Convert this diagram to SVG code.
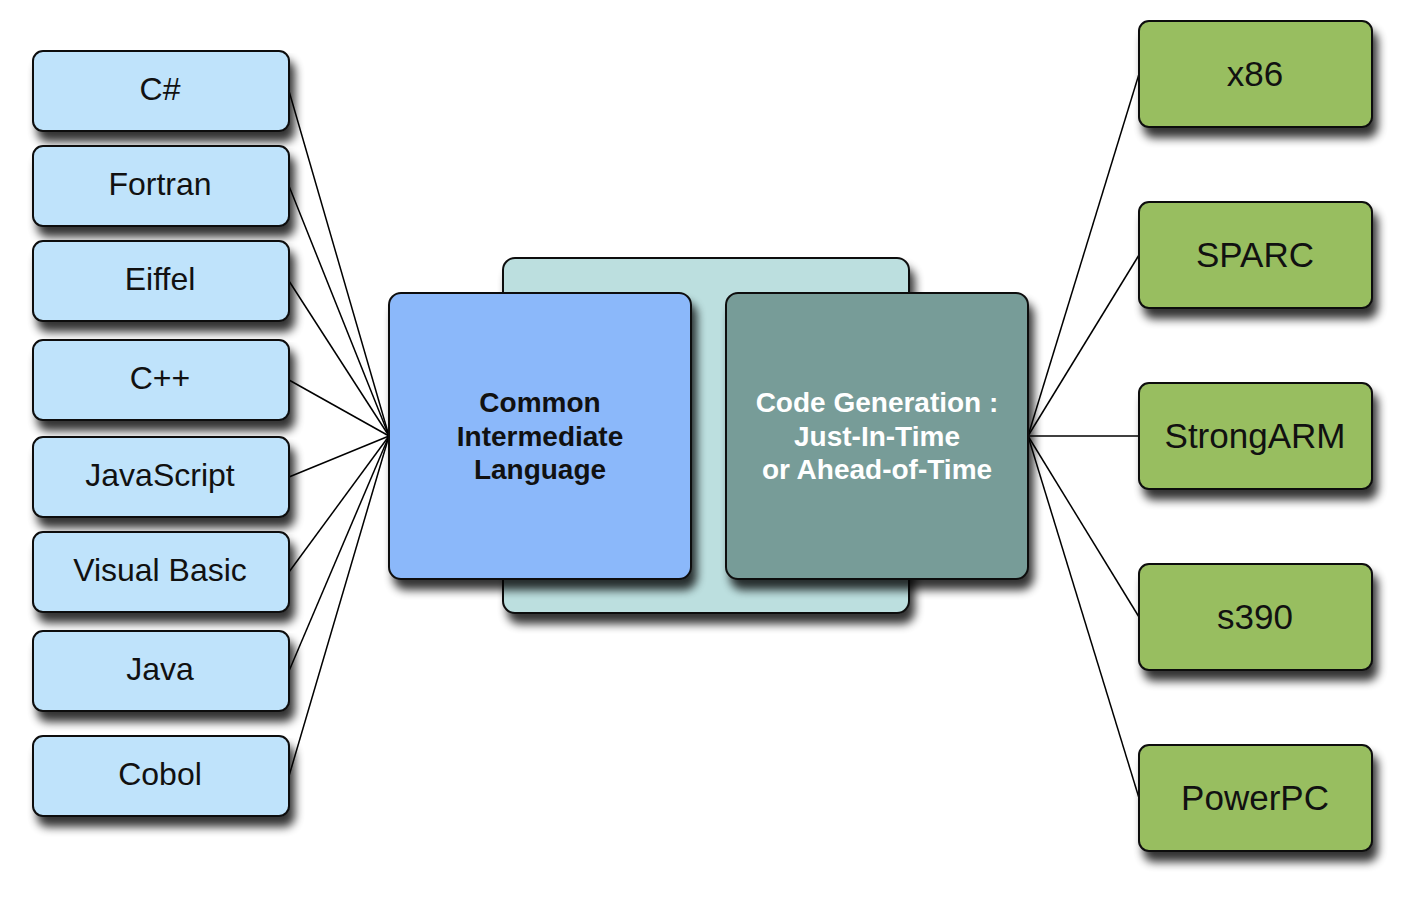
<svg xmlns="http://www.w3.org/2000/svg" width="1402" height="900" viewBox="0 0 1402 900">
<defs>
<filter id="sh" x="-10%" y="-10%" width="130%" height="150%">
<feGaussianBlur in="SourceAlpha" stdDeviation="5"/>
<feOffset dx="5" dy="10" result="b"/>
<feComponentTransfer><feFuncA type="linear" slope="0.8"/></feComponentTransfer>
<feMerge><feMergeNode/><feMergeNode in="SourceGraphic"/></feMerge>
</filter>
<style>
.box{stroke:#111;stroke-width:2;filter:url(#sh)}
.lang{fill:#bfe3fb}
.cpu{fill:#98be60}
.t{font-family:"Liberation Sans",Arial,sans-serif;fill:#111;text-anchor:middle}
.lt{font-size:32px}
.rt{font-size:35px}
.ct{font-size:28px;font-weight:bold}
.ln{stroke:#000;stroke-width:1.5;fill:none}
</style>
</defs>
<rect width="1402" height="900" fill="#fff"/>

<g id="connectors">
<line class="ln" x1="289" y1="91" x2="389" y2="436"/>
<line class="ln" x1="289" y1="186" x2="389" y2="436"/>
<line class="ln" x1="289" y1="281" x2="389" y2="436"/>
<line class="ln" x1="289" y1="380" x2="389" y2="436"/>
<line class="ln" x1="289" y1="477" x2="389" y2="436"/>
<line class="ln" x1="289" y1="572" x2="389" y2="436"/>
<line class="ln" x1="289" y1="671" x2="389" y2="436"/>
<line class="ln" x1="289" y1="776" x2="389" y2="436"/>
<line class="ln" x1="1028" y1="436" x2="1139" y2="74"/>
<line class="ln" x1="1028" y1="436" x2="1139" y2="255"/>
<line class="ln" x1="1028" y1="436" x2="1139" y2="436"/>
<line class="ln" x1="1028" y1="436" x2="1139" y2="617"/>
<line class="ln" x1="1028" y1="436" x2="1139" y2="798"/>
</g>

<g id="platform">
<rect class="box" x="503" y="258" width="406" height="355" rx="12" fill="#bcdfdf"/>
</g>
<g id="cil">
<rect class="box" x="389" y="293" width="302" height="286" rx="12" fill="#8bb8fa"/>
<text class="t ct" x="540" y="412">Common</text>
<text class="t ct" x="540" y="446">Intermediate</text>
<text class="t ct" x="540" y="479">Language</text>
</g>
<g id="codegen">
<rect class="box" x="726" y="293" width="302" height="286" rx="12" fill="#779c98"/>
<text class="t ct" x="877" y="412" style="fill:#fff">Code Generation :</text>
<text class="t ct" x="877" y="446" style="fill:#fff">Just-In-Time</text>
<text class="t ct" x="877" y="479" style="fill:#fff">or Ahead-of-Time</text>
</g>

<g id="csharp"><rect class="box lang" x="33" y="51" width="256" height="80" rx="10"/><text class="t lt" x="160" y="100">C#</text></g>
<g id="fortran"><rect class="box lang" x="33" y="146" width="256" height="80" rx="10"/><text class="t lt" x="160" y="195">Fortran</text></g>
<g id="eiffel"><rect class="box lang" x="33" y="241" width="256" height="80" rx="10"/><text class="t lt" x="160" y="290">Eiffel</text></g>
<g id="cpp"><rect class="box lang" x="33" y="340" width="256" height="80" rx="10"/><text class="t lt" x="160" y="389">C++</text></g>
<g id="javascript"><rect class="box lang" x="33" y="437" width="256" height="80" rx="10"/><text class="t lt" x="160" y="486">JavaScript</text></g>
<g id="visualbasic"><rect class="box lang" x="33" y="532" width="256" height="80" rx="10"/><text class="t lt" x="160" y="581">Visual Basic</text></g>
<g id="java"><rect class="box lang" x="33" y="631" width="256" height="80" rx="10"/><text class="t lt" x="160" y="680">Java</text></g>
<g id="cobol"><rect class="box lang" x="33" y="736" width="256" height="80" rx="10"/><text class="t lt" x="160" y="785">Cobol</text></g>

<g id="x86"><rect class="box cpu" x="1139" y="21" width="233" height="106" rx="10"/><text class="t rt" x="1255" y="86">x86</text></g>
<g id="sparc"><rect class="box cpu" x="1139" y="202" width="233" height="106" rx="10"/><text class="t rt" x="1255" y="267">SPARC</text></g>
<g id="strongarm"><rect class="box cpu" x="1139" y="383" width="233" height="106" rx="10"/><text class="t rt" x="1255" y="448">StrongARM</text></g>
<g id="s390"><rect class="box cpu" x="1139" y="564" width="233" height="106" rx="10"/><text class="t rt" x="1255" y="629">s390</text></g>
<g id="powerpc"><rect class="box cpu" x="1139" y="745" width="233" height="106" rx="10"/><text class="t rt" x="1255" y="810">PowerPC</text></g>
</svg>
